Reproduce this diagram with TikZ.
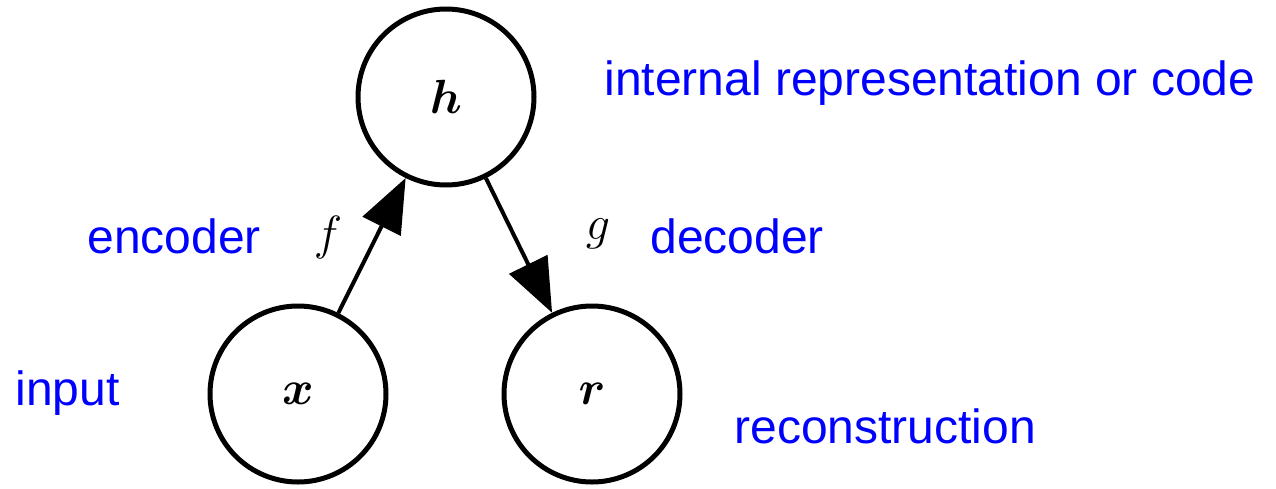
\RequirePackage{fix-cm}
\documentclass[tikz,border=0pt]{standalone}
\usepackage{fontspec}
\usepackage{amsmath,bm}
\setsansfont{Liberation Sans}
\usetikzlibrary{arrows.meta}
\definecolor{labelblue}{RGB}{0,0,255}
\begin{document}
\begin{tikzpicture}[x=0.5pt,y=-0.5pt,
  unit/.style={circle,draw,line width=2.5pt,minimum size=88pt,inner sep=0pt,
    font=\fontsize{24}{29}\selectfont},
  edge/.style={line width=2pt,-{Triangle[length=27pt,width=21pt]}},
  fname/.style={inner sep=0pt,font=\fontsize{24}{29}\selectfont},
  note/.style={anchor=base west,inner sep=0pt,text=labelblue,
    font=\sffamily\fontsize{24}{29}\selectfont}]
\useasboundingbox (0,0) rectangle (1276,488);

% autoencoder units
\node[unit] (h) at (446,97)  {$\bm{h}$};
\node[unit] (x) at (298,394) {$\bm{x}$};
\node[unit] (r) at (592,394) {$\bm{r}$};

% encoder and decoder mappings
\draw[edge] (x) -- (h);
\draw[edge] (h) -- (r);
\node[fname] (f) at (328,237.5) {$f$};
\node[fname] (g) at (598,233.5) {$g$};

% annotations
\node[note] (code)  at (604,95)  {internal representation or code};
\node[note] (enc)   at (87,253)  {encoder};
\node[note] (dec)   at (650,253) {decoder};
\node[note] (inp)   at (15,405)  {input};
\node[note] (recon) at (734,443) {reconstruction};
\end{tikzpicture}
\end{document}
